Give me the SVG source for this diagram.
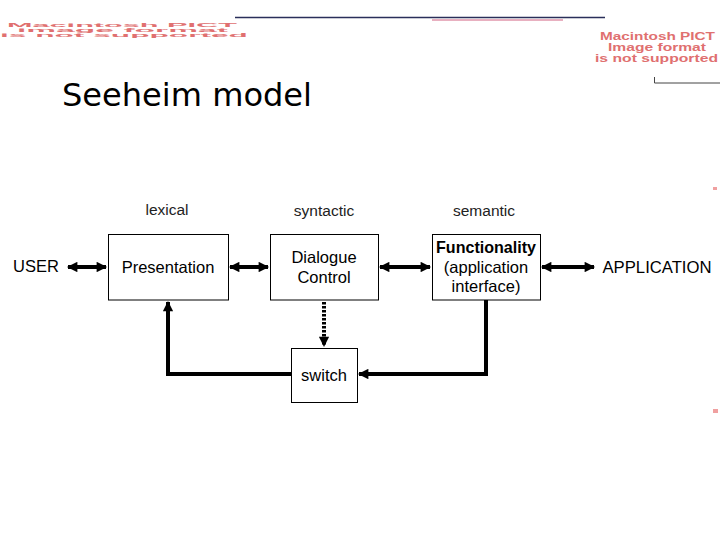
<svg xmlns="http://www.w3.org/2000/svg" width="720" height="540" viewBox="0 0 720 540">
<style>
.box{fill:#fff;stroke:#000;stroke-width:1}
.lbl{font-family:"Liberation Sans",Arial,sans-serif;font-size:16.5px;fill:#000;text-anchor:middle}
.top{font-family:"Liberation Sans",Arial,sans-serif;font-size:15.5px;fill:#222;text-anchor:middle}
.conn{fill:none;stroke:#000;stroke-width:4}
.pict{font-family:"Liberation Sans",Arial,sans-serif;font-weight:bold;fill:#e07070}
</style>
<defs>
<marker id="ah" viewBox="0 0 10 10" refX="9" refY="5" markerWidth="3" markerHeight="2.6" orient="auto-start-reverse" markerUnits="strokeWidth">
<path d="M0,0 L10,5 L0,10 z" fill="#000"/>
</marker>
</defs>
<rect width="720" height="540" fill="#fff"/>
<!-- header decorations -->
<line x1="235" y1="17.5" x2="605" y2="17.5" stroke="#2a2f5a" stroke-width="1.5"/>
<rect x="432" y="19" width="131" height="2" fill="#e8b0c0"/>
<g transform="scale(1,0.45)">
<text class="pict" x="7" y="60" font-size="10" textLength="230" lengthAdjust="spacingAndGlyphs">Macintosh PICT</text>
<text class="pict" x="17" y="71" font-size="10" textLength="211" lengthAdjust="spacingAndGlyphs">image format</text>
<text class="pict" x="0" y="82" font-size="10" textLength="248" lengthAdjust="spacingAndGlyphs">is not supported</text>
</g>
<text class="pict" x="600" y="40" font-size="11.5" textLength="115" lengthAdjust="spacingAndGlyphs">Macintosh PICT</text>
<text class="pict" x="608" y="51" font-size="11.5" textLength="98" lengthAdjust="spacingAndGlyphs">Image format</text>
<text class="pict" x="595" y="61.5" font-size="11.5" textLength="123" lengthAdjust="spacingAndGlyphs">is not supported</text>
<polyline points="654.5,77 654.5,83 720,83" fill="none" stroke="#444" stroke-width="1"/>
<rect x="713" y="187" width="4" height="3" fill="#f0a0a0"/>
<rect x="713" y="409" width="5" height="4" fill="#f0a0a0"/>
<text x="62" y="106" font-family="'DejaVu Sans',sans-serif" font-size="32" textLength="250" lengthAdjust="spacingAndGlyphs" fill="#000">Seeheim model</text>
<!-- layer labels -->
<text class="top" x="167" y="215">lexical</text>
<text class="top" x="324" y="216">syntactic</text>
<text class="top" x="484" y="216">semantic</text>
<!-- connectors -->
<g id="connectors">
<line class="conn" x1="68" y1="267" x2="106" y2="267" marker-start="url(#ah)" marker-end="url(#ah)"/>
<line class="conn" x1="230" y1="267" x2="268" y2="267" marker-start="url(#ah)" marker-end="url(#ah)"/>
<line class="conn" x1="380" y1="267" x2="430" y2="267" marker-start="url(#ah)" marker-end="url(#ah)"/>
<line class="conn" x1="542" y1="267" x2="594" y2="267" marker-start="url(#ah)" marker-end="url(#ah)"/>
<line x1="324" y1="302" x2="324" y2="346" stroke="#000" stroke-width="4" stroke-dasharray="2.5,1.5" marker-end="url(#ah)"/>
<polyline class="conn" points="486,300 486,374 359,374" marker-end="url(#ah)"/>
<polyline class="conn" points="291,374 168,374 168,302" marker-end="url(#ah)"/>
</g>
<g id="user"><text class="lbl" x="36" y="272" font-size="17">USER</text></g>
<g id="presentation">
<rect class="box" x="108.5" y="234.5" width="120" height="65.5"/>
<text class="lbl" x="168" y="273">Presentation</text>
</g>
<g id="dialogue">
<rect class="box" x="270.5" y="234.5" width="108" height="65.5"/>
<text class="lbl" x="324" y="263">Dialogue</text>
<text class="lbl" x="324" y="283">Control</text>
</g>
<g id="functionality">
<rect class="box" x="432.5" y="234.5" width="108" height="65.5"/>
<text class="lbl" x="486" y="253" font-weight="bold" textLength="100" lengthAdjust="spacingAndGlyphs">Functionality</text>
<text class="lbl" x="486" y="273" font-size="16">(application</text>
<text class="lbl" x="486" y="292" font-size="16">interface)</text>
</g>
<g id="switch">
<rect class="box" x="291.5" y="348.5" width="66" height="54"/>
<text class="lbl" x="324" y="381">switch</text>
</g>
<g id="application"><text class="lbl" x="657" y="273" font-size="16.5" textLength="109" lengthAdjust="spacingAndGlyphs">APPLICATION</text></g>
</svg>
